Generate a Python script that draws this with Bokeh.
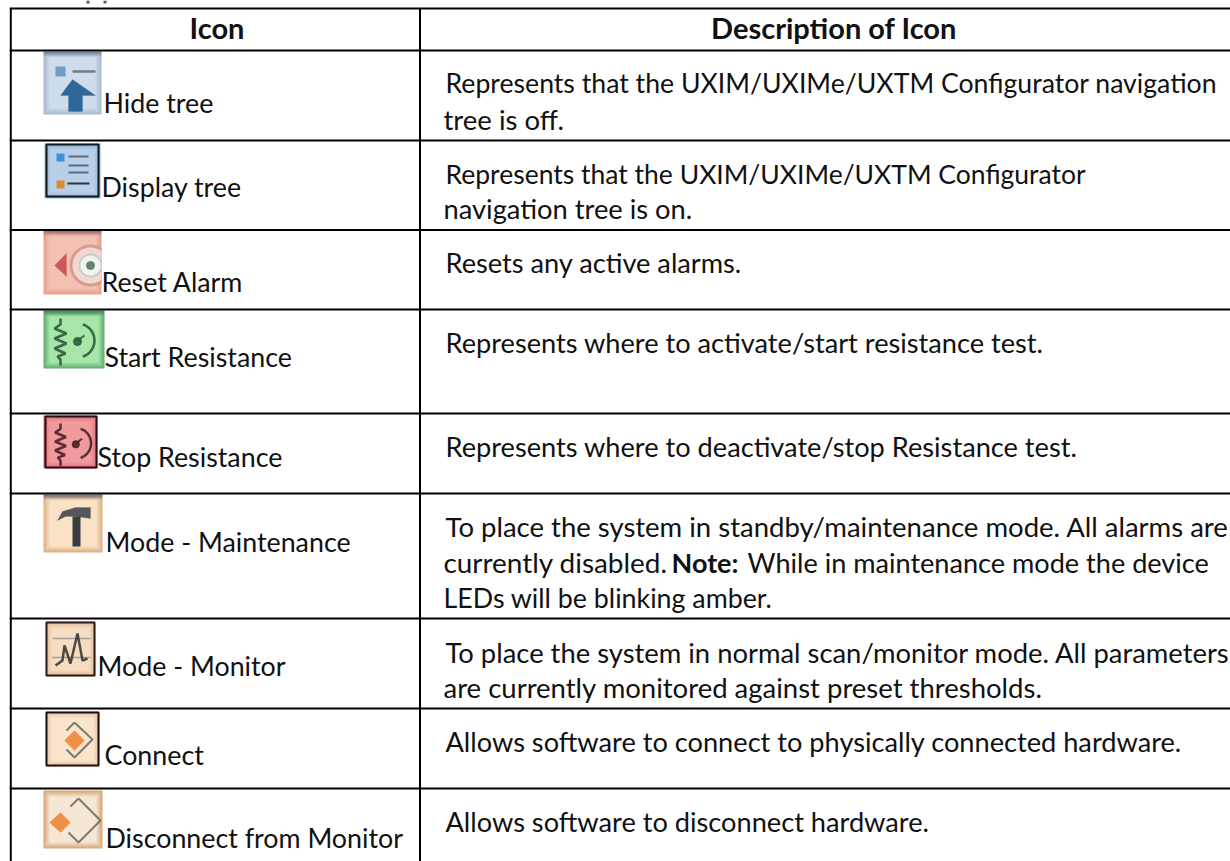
import numpy as np
from bokeh.plotting import figure
from bokeh.models import Range1d, ColumnDataSource
from bokeh.core.properties import value
from bokeh.embed import file_html
from bokeh.resources import INLINE

# ---- table content ----
HEADERS = ["Icon", "Description of Icon"]
ICON_LABELS = ["Hide tree", "Display tree", "Reset Alarm", "Start Resistance", "Stop Resistance",
               "Mode - Maintenance", "Mode - Monitor", "Connect", "Disconnect from Monitor"]
DESC_LINES = ["Represents that the UXIM/UXIMe/UXTM Configurator navigation", "tree is off.",
              "Represents that the UXIM/UXIMe/UXTM Configurator", "navigation tree is on.",
              "Resets any active alarms.",
              "Represents where to activate/start resistance test.",
              "Represents where to deactivate/stop Resistance test.",
              "To place the system in standby/maintenance mode. All alarms are",
              "currently disabled.", "While in maintenance mode the device",
              "LEDs will be blinking amber.",
              "To place the system in normal scan/monitor mode. All parameters",
              "are currently monitored against preset thresholds.",
              "Allows software to connect to physically connected hardware.",
              "Allows software to disconnect hardware."]
NOTE = "Note:"

# ---- layout (picture pixels) ----
W, H = 1230, 861
ROW_Y = [8, 50, 140, 229.5, 309, 413, 493, 618, 708, 788]
COL_X = [10.3, 419.5]
LABEL_X = [103, 101, 101, 104, 97, 105, 97, 104, 105]
LABEL_Y = [112, 196, 291, 366, 466, 551, 675, 764, 847]
DESC_X = [445, 443, 445, 443, 445, 445, 445, 445, 443, 747, 443, 445, 443, 445, 445]
DESC_Y = [92.5, 129, 183, 218, 272, 352, 456, 536, 572, 572, 607, 662, 697, 751, 831]
DESC_SIZE = [26.65, 27.5, 26.5, 27.3, 27.2, 27.2, 27.2, 27.5, 27.9, 27.1, 26.8, 27.4, 27.5, 27.2, 27.2]
BASE_K = 0.37   # this page's text sits with its y near mid-height: lift by this share of the size
FONT = "Lato"
INK = "#111111"

p = figure(width=W, height=H, x_range=Range1d(0, W), y_range=Range1d(H, 0),
           output_backend="svg", toolbar_location=None, min_border=0,
           outline_line_color=None)
p.axis.visible = False
p.grid.visible = False
p.background_fill_color = "white"
p.border_fill_color = "white"


def hexrgb(c):
    return np.array([int(c[i:i + 2], 16) for i in (1, 3, 5)], float)


def bg(x0, y0, x1, y1, center, edge, top=None):
    """Soft icon tile: vignette from edge colour to centre colour, with optional dark top band."""
    w, h = int(x1 - x0), int(y1 - y0)
    yy, xx = np.mgrid[0:h, 0:w]
    d = np.minimum.reduce([xx, w - 1 - xx, yy, h - 1 - yy]).astype(float)
    t = np.clip(d / 6.0, 0, 1)[..., None]
    rgb = hexrgb(edge) * (1 - t) + hexrgb(center) * t
    if top:
        tb = np.clip(1 - yy / 5.0, 0, 1)[..., None]
        rgb = rgb * (1 - tb) + hexrgb(top) * tb
    img = np.zeros((h, w), dtype=np.uint32)
    v = img.view(dtype=np.uint8).reshape((h, w, 4))
    v[..., :3] = rgb.astype(np.uint8)
    v[..., 3] = 255
    p.image_rgba(image=[img], x=x0, y=y0, dw=w, dh=h)


def border(x0, y0, x1, y1, color, w=2):
    p.quad(left=x0 + 1, right=x1 - 1, top=y0 + 1, bottom=y1 - 1, fill_color=None, line_color=color, line_width=w)


def poly(pts, color, w=2, alpha=0.9):
    p.line([a for a, _ in pts], [b for _, b in pts], line_color=color, line_width=w, line_alpha=alpha)


def fill(pts, color):
    p.patch([a for a, _ in pts], [b for _, b in pts], fill_color=color, line_color=color, line_width=0.5, line_alpha=0.5)


def res_symbol(ox, oy, s, color):
    zig = [(0, 0), (0, 6), (-6, 10), (6, 15), (-6, 20), (6, 25), (-6, 30), (5, 35), (-3, 38), (0, 41), (0, 47)]
    poly([(ox + a * s, oy + b * s) for a, b in zig], color, 2.5)
    th = np.linspace(-1.25, 1.25, 16)
    cx, cy = ox + 17 * s, oy + 22 * s
    poly([(cx + 17 * s * np.cos(t), cy + 17 * s * np.sin(t)) for t in th], color, 2.5)
    p.scatter([cx], [cy + 1], size=8 * s, marker="circle", color=color, alpha=0.9)
    poly([(cx, cy), (cx + 7 * s, cy - 5 * s)], color, 2)


# remains of the line of text cut off above the table
p.quad(left=[86, 103], right=[89, 106], top=[0, 0], bottom=[3, 3], fill_color="#555555", line_color=None)

# Hide tree
bg(43, 51, 101, 114, "#cfdcec", "#a8bccf", "#6f8494")
p.quad(left=55, right=65, top=66, bottom=76, fill_color="#6f9cc8", line_color=None)
poly([(72, 71), (95, 71)], "#667078", 2.5)
fill([(60, 95), (72, 79), (95, 95), (82, 95), (82, 111), (68, 111), (68, 95)], "#2f6799")

# Display tree
bg(44, 143, 100, 198, "#b7d0e8", "#8fb0d0")
border(45, 143, 99, 197, "#101820", 2)
p.quad(left=56, right=64, top=153, bottom=161, fill_color="#3e90e0", line_color=None)
p.quad(left=56, right=64, top=180, bottom=188, fill_color="#e08a30", line_color=None)
for yy_ in (156, 165, 172):
    poly([(68, yy_), (88, yy_)], "#55606a", 2)
poly([(67, 183), (89, 183)], "#222222", 2)

# Reset Alarm
bg(43, 230, 101, 294, "#f4c0b2", "#e8a090", "#8f7468")
th_ = np.linspace(0, 2 * np.pi, 48)
for r_, c_ in ((21, "#d99a90"), (18, "#f0d8d0"), (12, "#c8cfc8"), (10, "#f4f2ee")):
    px_ = np.minimum(90 + r_ * np.cos(th_), 101)
    py_ = 265 + r_ * np.sin(th_)
    p.patch(px_, py_, fill_color=c_, line_color=None)
p.scatter([90], [265], size=8, marker="circle", color="#5f8570")
fill([(54, 265), (66, 253), (66, 276)], "#c9595a")

# Start Resistance
bg(43, 310, 104, 368, "#a6e6a6", "#62ad78", "#4a8a5c")
res_symbol(60, 318, 1.0, "#2c5a3c")

# Stop Resistance
bg(43, 415, 97, 468, "#f09aa0", "#e06a78")
border(44, 415, 97, 468, "#2a0c14", 2)
res_symbol(60, 423, 0.9, "#4a2226")

# Mode - Maintenance
bg(43, 494, 102, 552, "#fae2c6", "#dcb084", "#6f7078")
fill([(57, 520), (62, 511), (75, 507), (90, 507), (90, 518), (76, 516), (65, 516)], "#56565a")
p.quad(left=72, right=80, top=516, bottom=546, fill_color="#3c3c40", line_color=None)

# Mode - Monitor
bg(45, 621, 95, 676, "#f6dcc0", "#e0bc98")
border(45, 621, 95, 676, "#2c1a14", 2)
poly([(52, 638), (90, 638)], "#9a9a96", 1.5)
poly([(52, 657), (90, 657)], "#9a9a96", 1.5)
poly([(55, 665), (62, 660), (64, 645), (70, 663), (77, 633), (82, 660), (87, 658)], "#3a3a38", 2.5)

# Connect
bg(45, 711, 99, 766, "#fbe4cc", "#e2c09c")
border(45, 711, 99, 766, "#1c120c", 2)
poly([(74, 722), (92, 739), (74, 757), (66, 749)], "#6c7068", 2)
poly([(66, 730), (74, 722)], "#6c7068", 2)
fill([(74, 730), (84, 740), (74, 750), (64, 740)], "#f09048")

# Disconnect
bg(43, 790, 102, 848, "#f6e6d4", "#d8a878")
poly([(78, 798), (100, 820), (78, 842), (68, 832)], "#6c7068", 2)
poly([(70, 806), (78, 798)], "#6c7068", 2)
fill([(60, 812), (70, 822), (60, 832), (49, 822)], "#f09048")

# ---- grid lines ----
p.segment(x0=[COL_X[0] - 1] * len(ROW_Y), x1=[W] * len(ROW_Y), y0=ROW_Y, y1=ROW_Y, line_color="#000000", line_width=2)
p.segment(x0=COL_X, x1=COL_X, y0=[ROW_Y[0]] * 2, y1=[H] * 2, line_color="#000000", line_width=2)


# ---- texts ----
def texts(xs, ys, labels, sizes, style="normal", align="left"):
    sizes = sizes if isinstance(sizes, list) else [sizes] * len(xs)
    src = ColumnDataSource(dict(x=xs, y=[y - BASE_K * s for y, s in zip(ys, sizes)], t=labels,
                                s=[f"{s}px" for s in sizes]))
    p.text("x", "y", "t", source=src, text_font=value(FONT), text_font_size="s", text_font_style=style,
           text_align=align, text_baseline="alphabetic", text_color=INK)


texts([216.5, 833.5], [38, 38], HEADERS, 29, "bold", "center")
texts(LABEL_X, LABEL_Y, ICON_LABELS, 26.8)
texts(DESC_X, DESC_Y, DESC_LINES, DESC_SIZE)
texts([671], [572], [NOTE], 27, "bold")

open("out.html", "w").write(file_html(p, INLINE))
